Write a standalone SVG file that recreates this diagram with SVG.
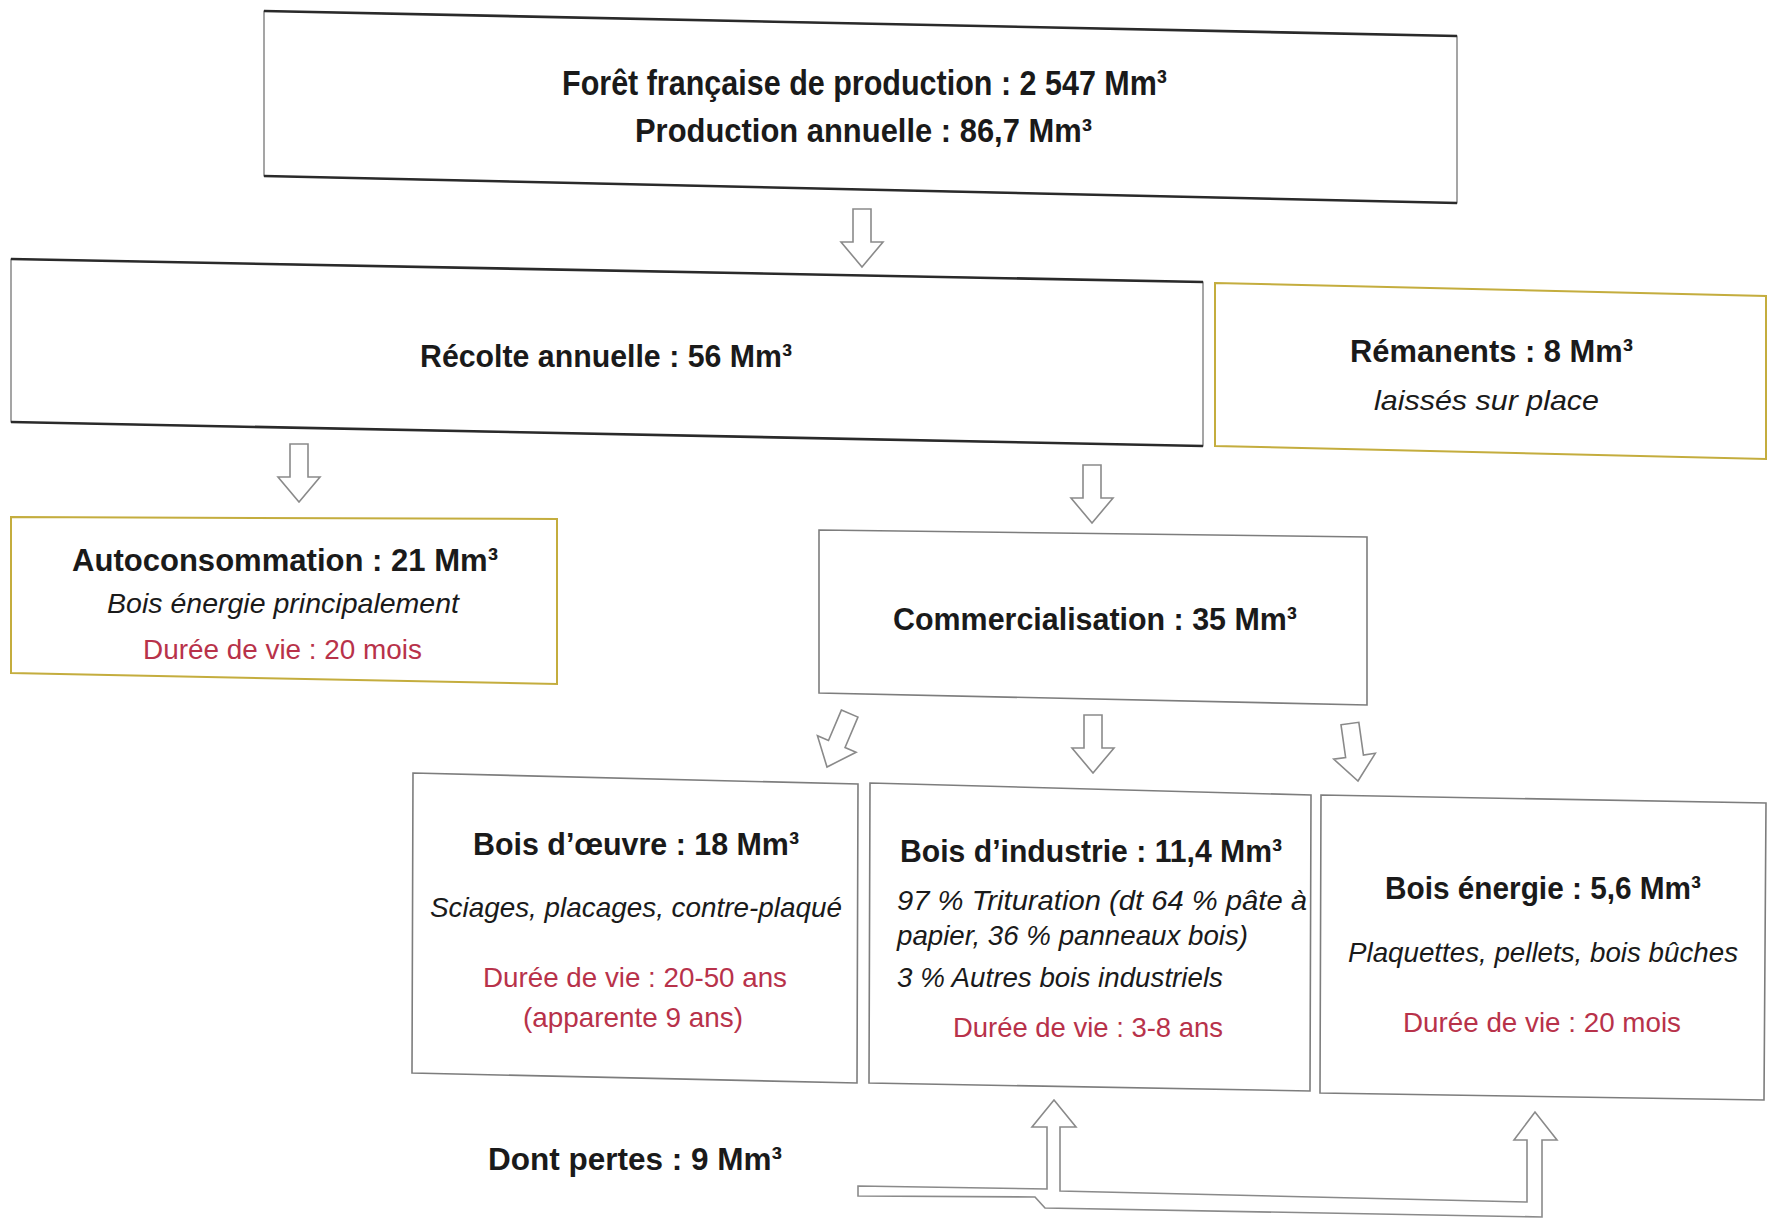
<svg xmlns="http://www.w3.org/2000/svg" xmlns:xlink="http://www.w3.org/1999/xlink" width="1775" height="1225" viewBox="0 0 1775 1225">
<style>
  .main { fill: #ffffff; stroke: #6a6a6a; stroke-width: 1.2; }
  .edge { stroke: #2a2a2a; stroke-width: 2.6; fill: none; }
  .yel { fill: #ffffff; stroke: #c4ad3e; stroke-width: 2; }
  .grey { fill: #ffffff; stroke: #7d7d7d; stroke-width: 1.6; }
  .arr { fill: #ffffff; stroke: #8a8a8a; stroke-width: 1.6; stroke-linejoin: miter; }
  text { font-family: "Liberation Sans", Arial, sans-serif; fill: #1a1a1a; }
  .b { font-weight: bold; font-size: 32px; }
  .t1 { font-weight: bold; font-size: 35px; }
  .t2 { font-weight: bold; font-size: 33px; }
  .i { font-style: italic; font-size: 28px; }
  .r { font-size: 28px; fill: #b8324a; }
</style>
<defs>
  <path id="arrDown" d="M -9 -58 H 9 V -25 H 21 L 0 0 L -21 -25 H -9 Z"/>
</defs>
<rect x="0" y="0" width="1775" height="1225" fill="#ffffff"/>

<g id="connectors">
  <use xlink:href="#arrDown" class="arr" transform="translate(862,267)"/>
  <use xlink:href="#arrDown" class="arr" transform="translate(299,502)"/>
  <use xlink:href="#arrDown" class="arr" transform="translate(1092,523)"/>
  <use xlink:href="#arrDown" class="arr" transform="translate(827,767) rotate(23)"/>
  <use xlink:href="#arrDown" class="arr" transform="translate(1093,773)"/>
  <use xlink:href="#arrDown" class="arr" transform="translate(1358,781) rotate(-8)"/>
  <path class="arr" d="M 858 1186 L 1047 1189 L 1047 1127 L 1032 1127 L 1054 1100 L 1076 1127 L 1060 1127 L 1060 1191 L 1527 1202 L 1527 1140 L 1514 1140 L 1535 1112 L 1557 1140 L 1542 1140 L 1542 1217 L 1045 1208 L 1035 1197 L 858 1196 Z"/>
</g>

<g id="foret">
  <polygon class="main" points="264,11 1457,36 1457,203 264,176"/>
  <line class="edge" x1="264" y1="11" x2="1457" y2="36"/>
  <line class="edge" x1="264" y1="176" x2="1457" y2="203"/>
  <text class="t1" x="562" y="95" textLength="605" lengthAdjust="spacingAndGlyphs">Forêt française de production : 2 547 Mm³</text>
  <text class="t2" x="635" y="142" textLength="457" lengthAdjust="spacingAndGlyphs">Production annuelle : 86,7 Mm³</text>
</g>

<g id="recolte">
  <polygon class="main" points="11,259 1203,282 1203,446 11,422"/>
  <line class="edge" x1="11" y1="259" x2="1203" y2="282"/>
  <line class="edge" x1="11" y1="422" x2="1203" y2="446"/>
  <text class="b" x="420" y="367" textLength="372" lengthAdjust="spacingAndGlyphs">Récolte annuelle : 56 Mm³</text>
</g>

<g id="remanents">
  <polygon class="yel" points="1215,283 1766,296 1766,459 1215,446"/>
  <text class="b" x="1350" y="362" textLength="283" lengthAdjust="spacingAndGlyphs">Rémanents : 8 Mm³</text>
  <text class="i" x="1374" y="410" textLength="225" lengthAdjust="spacingAndGlyphs">laissés sur place</text>
</g>

<g id="autoconsommation">
  <polygon class="yel" points="11,517 557,519 557,684 11,673"/>
  <text class="b" x="72" y="571" textLength="426" lengthAdjust="spacingAndGlyphs">Autoconsommation : 21 Mm³</text>
  <text class="i" x="107" y="613" textLength="352" lengthAdjust="spacingAndGlyphs">Bois énergie principalement</text>
  <text class="r" x="143" y="659" textLength="279" lengthAdjust="spacingAndGlyphs">Durée de vie : 20 mois</text>
</g>

<g id="commercialisation">
  <polygon class="grey" points="819,530 1367,537 1367,705 819,693"/>
  <text class="b" x="893" y="630" textLength="404" lengthAdjust="spacingAndGlyphs">Commercialisation : 35 Mm³</text>
</g>

<g id="bois-oeuvre">
  <polygon class="grey" points="413,773 858,784 857,1083 412,1073"/>
  <text class="b" x="473" y="855" textLength="326" lengthAdjust="spacingAndGlyphs">Bois d’œuvre : 18 Mm³</text>
  <text class="i" x="430" y="917" textLength="412" lengthAdjust="spacingAndGlyphs">Sciages, placages, contre-plaqué</text>
  <text class="r" x="483" y="987" textLength="304" lengthAdjust="spacingAndGlyphs">Durée de vie : 20-50 ans</text>
  <text class="r" x="523" y="1027" textLength="220" lengthAdjust="spacingAndGlyphs">(apparente 9 ans)</text>
</g>

<g id="bois-industrie">
  <polygon class="grey" points="870,783 1311,795 1310,1091 869,1083"/>
  <text class="b" x="900" y="862" textLength="382" lengthAdjust="spacingAndGlyphs">Bois d’industrie : 11,4 Mm³</text>
  <text class="i" x="897" y="910" textLength="410" lengthAdjust="spacingAndGlyphs">97 % Trituration (dt 64 % pâte à</text>
  <text class="i" x="897" y="945" textLength="351" lengthAdjust="spacingAndGlyphs">papier, 36 % panneaux bois)</text>
  <text class="i" x="897" y="987" textLength="326" lengthAdjust="spacingAndGlyphs">3 % Autres bois industriels</text>
  <text class="r" x="953" y="1037" textLength="270" lengthAdjust="spacingAndGlyphs">Durée de vie : 3-8 ans</text>
</g>

<g id="bois-energie">
  <polygon class="grey" points="1321,795 1766,803 1764,1100 1320,1093"/>
  <text class="b" x="1385" y="899" textLength="316" lengthAdjust="spacingAndGlyphs">Bois énergie : 5,6 Mm³</text>
  <text class="i" x="1348" y="962" textLength="390" lengthAdjust="spacingAndGlyphs">Plaquettes, pellets, bois bûches</text>
  <text class="r" x="1403" y="1032" textLength="278" lengthAdjust="spacingAndGlyphs">Durée de vie : 20 mois</text>
</g>

<g id="pertes">
  <text class="b" x="488" y="1170" textLength="294" lengthAdjust="spacingAndGlyphs">Dont pertes : 9 Mm³</text>
</g>
</svg>
